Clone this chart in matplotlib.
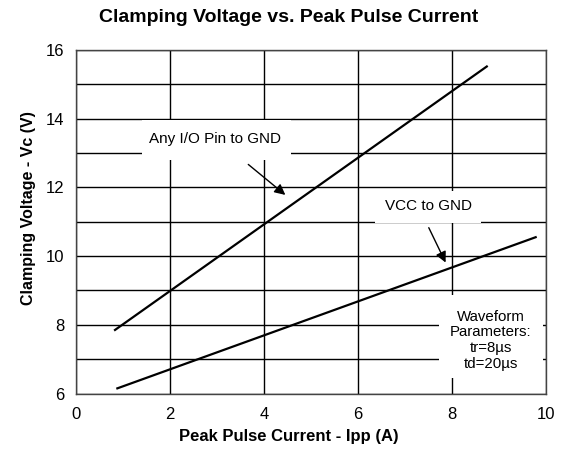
import matplotlib
matplotlib.use('Agg')
import matplotlib.pyplot as plt
from matplotlib.patches import Rectangle

# endpoints (Ipp in A, Vc in V)
io_ipp = [0.83, 8.74]
io_vc = [7.85, 15.52]
vcc_ipp = [0.88, 9.78]
vcc_vc = [6.15, 10.55]

x_ticks = [0, 2, 4, 6, 8, 10]
y_ticks = [6, 7, 8, 9, 10, 11, 12, 13, 14, 15, 16]
y_labels = ['6', '', '8', '', '10', '', '12', '', '14', '', '16']

plt.rcParams['font.family'] = ['Liberation Sans', 'DejaVu Sans']

fig = plt.figure(figsize=(5.64, 4.5), dpi=100)
ax = fig.add_axes([76 / 564, 1 - 393.5 / 450, 470 / 564, 343.5 / 450])

ax.set_xlim(0, 10)
ax.set_ylim(6, 16)
ax.set_xticks(x_ticks)
ax.set_yticks(y_ticks)
ax.set_yticklabels(y_labels)
ax.tick_params(length=0, labelsize=12)
ax.tick_params(axis='y', pad=8.5)
ax.tick_params(axis='x', pad=10)
ax.grid(True, color='black', linewidth=1.0, zorder=1)
ax.set_axisbelow(True)
for sp in ax.spines.values():
    sp.set_color('#444444')
    sp.set_linewidth(1.0)

# white label boxes that interrupt the grid
for (x0, y0, w, h) in [(1.40, 12.80, 3.17, 1.17), (6.36, 10.97, 2.26, 0.93), (7.73, 6.45, 2.21, 2.42)]:
    ax.add_patch(Rectangle((x0, y0), w, h, facecolor='white', edgecolor='none', zorder=2))

ax.plot(io_ipp, io_vc, color='black', linewidth=1.6, zorder=3)
ax.plot(vcc_ipp, vcc_vc, color='black', linewidth=1.6, zorder=3)

ax.text(2.96, 13.4, 'Any I/O Pin to GND', fontsize=11, ha='center', va='center', zorder=4)
ax.text(7.50, 11.46, 'VCC to GND', fontsize=11, ha='center', va='center', zorder=4)
ax.text(8.82, 7.55, 'Waveform\nParameters:\ntr=8µs\ntd=20µs', fontsize=10.8,
        ha='center', va='center', linespacing=1.15, zorder=4)

arrow = dict(arrowstyle='-|>', color='black', lw=1.0, mutation_scale=16)
ax.annotate('', xy=(4.50, 11.73), xytext=(3.62, 12.72), arrowprops=arrow, zorder=4)
ax.annotate('', xy=(7.89, 9.74), xytext=(7.48, 10.90), arrowprops=arrow, zorder=4)

fig.text(289 / 564, 1 - 18 / 450, 'Clamping Voltage vs. Peak Pulse Current',
         fontsize=14, fontweight='bold', ha='center', va='center')
fig.text(289 / 564, 1 - 437 / 450, 'Peak Pulse Current - Ipp (A)',
         fontsize=12, fontweight='bold', ha='center', va='center')
fig.text(29 / 564, 1 - 208 / 450, 'Clamping Voltage - Vc (V)',
         fontsize=11.5, fontweight='bold', ha='center', va='center', rotation=90)

fig.savefig('out.png', dpi=100)
